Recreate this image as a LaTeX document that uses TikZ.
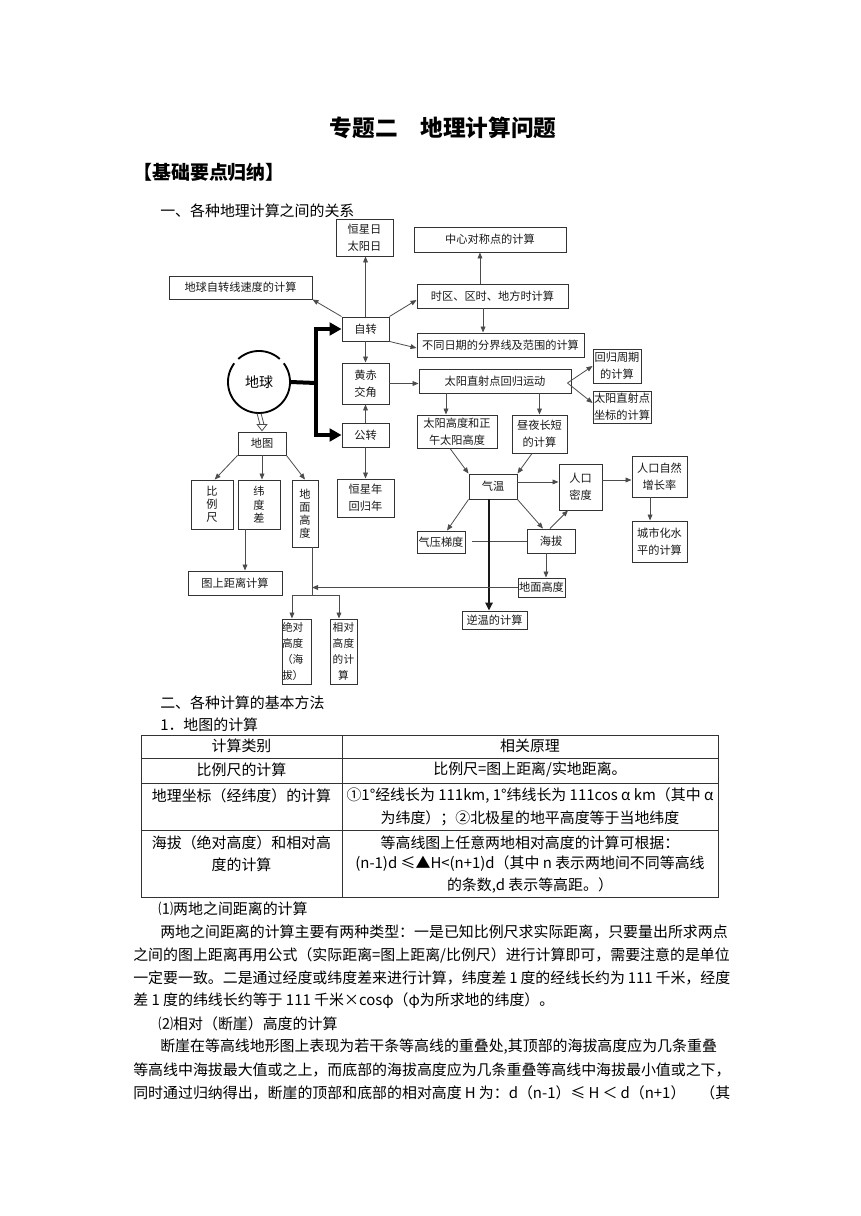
\documentclass[tikz,border=0pt]{standalone}
\usepackage{fontspec}
\setmainfont{Noto Sans CJK SC}
\usetikzlibrary{arrows.meta,calc}
\XeTeXlinebreaklocale "zh"
\XeTeXlinebreakskip=0pt plus 3pt
\newcommand\dgf{\fontsize{8.4}{12.5}\selectfont}
\newcommand\vtf{\fontsize{8.4}{9.8}\selectfont}
\newcommand\smf{\fontsize{8}{12}\selectfont}
\newcommand\bdf{\fontsize{11.2}{16}\selectfont}
\newcommand\BX[7][]{%
 \pgfmathsetmacro\bxw{(#4-#2)*0.75}%
 \pgfmathsetmacro\bxh{(#5-#3)*0.75}%
 \node[bx,minimum width=\bxw pt,minimum height=\bxh pt,#1] (#6) at ({(#2+#4)/2},{(#3+#5)/2}) {#7};}
\tikzset{
 bx/.style={draw=black!80, line width=0.7pt, inner sep=0pt, align=center, font=\dgf, text=black!90},
 ar/.style={draw=black!70, line width=0.6pt, -{Triangle[length=4.5pt,width=3.6pt]}},
 ln/.style={draw=black!70, line width=0.6pt},
 thk/.style={line width=3pt, line join=miter},
 tharr/.style={thk, -{Triangle[length=9pt,width=9.5pt]}},
 tx/.style={inner sep=0pt, anchor=west, font=\bdf},
 tc/.style={inner sep=0pt, font=\bdf},
 tbl/.style={draw=black!80, line width=0.6pt},
}
\begin{document}
\begin{tikzpicture}[x=0.75pt,y=-0.75pt]
\fill[white] (0,0) rectangle (860,1216);
\useasboundingbox (0,0) rectangle (860,1216);

% headings
\node[inner sep=0pt, font=\fontsize{17}{20}\selectfont\bfseries] (title) at (443,128) {专题二　地理计算问题};
\node[tx, font=\fontsize{14.2}{17}\selectfont\bfseries] (hd) at (133,172) {【基础要点归纳】};
\node[tx] (s1) at (160,211) {一、各种地理计算之间的关系};

% diagram boxes
\BX{336}{219}{393}{256}{hx}{恒星日\\太阳日}
\BX{414}{227}{566}{252}{zx}{中心对称点的计算}
\BX{169}{276}{312}{299}{xs}{地球自转线速度的计算}
\BX{417}{284}{568}{308}{sq}{时区、区时、地方时计算}
\BX{342}{317}{389}{341}{zz}{自转}
\BX{417}{333}{584}{357}{bt}{不同日期的分界线及范围的计算}
\BX{342}{363}{389}{404}{hc}{黄赤\\交角}
\BX{419}{369}{571}{393}{zs}{太阳直射点回归运动}
\BX{593}{349}{641}{383}{hg}{回归周期\\的计算}
\BX{593}{391}{651}{423}{zb}{太阳直射点\\坐标的计算}
\BX{342}{423}{389}{447}{gz}{公转}
\BX{337}{479}{394}{517}{hn}{恒星年\\回归年}
\BX{417}{415}{497}{448}{tg}{太阳高度和正\\午太阳高度}
\BX{512}{415}{567}{453}{zy}{昼夜长短\\的计算}
\BX{469}{474}{517}{499}{qw}{气温}
\BX{559}{464}{602}{510}{rk}{人口\\密度}
\BX{632}{456}{687}{497}{zr}{人口自然\\增长率}
\BX{632}{521}{687}{562}{cs}{城市化水\\平的计算}
\BX{417}{531}{465}{553}{qy}{气压梯度}
\BX{527}{529}{575}{553}{hb}{海拔}
\BX{518}{578}{565}{597}{dmr}{地面高度}
\BX{462}{611}{527}{629}{nw}{逆温的计算}
\BX{238}{432}{286}{455}{dt}{地图}
\BX[font=\vtf, text width=1em]{191}{480}{233}{529}{bl}{比\\例\\尺}
\BX[font=\vtf, text width=1em]{238}{480}{280}{529}{wd}{纬\\度\\差}
\BX[font=\vtf, text width=1em]{292}{480}{318}{547}{dmv}{地\\面\\高\\度}
\BX{188}{571}{282}{595}{tj}{图上距离计算}
\BX[font=\smf, align=left, text width=21.75pt]{282}{619}{311}{684}{jd}{绝对\\高度\\（海\\拔）}
\BX[font=\smf, text width=20.25pt]{330}{619}{357}{684}{xd}{相对\\高度\\的计\\算}

% earth
\node[circle, minimum size=46.5pt, inner sep=0pt, font=\fontsize{10.5}{12}\selectfont] (dq) at (259,382) {地球};
\draw[line width=1.4pt] plot[domain=48:132, samples=30] ({259+31*cos(\x)},{382-31*sin(\x)});
\draw[line width=1.4pt] plot[domain=143:397, samples=80] ({259+31*cos(\x)},{382-31*sin(\x)});

% thick connectors
\coordinate (J) at (316,383);
\draw[thk] (dq.east) -- (J);
\draw[tharr] (J) |- (zz.west);
\draw[tharr] (J) |- (gz.west);

% double arrow earth -> map
\draw[ln] ([xshift=-1.5pt]dq.south) -- ([xshift=-1.5pt,yshift=5.25pt]dt.north);
\draw[ln] ([xshift=1.5pt]dq.south) -- ([xshift=1.5pt,yshift=5.25pt]dt.north);
\draw[ln, fill=white] ([xshift=-3.6pt,yshift=5.25pt]dt.north) -- ([xshift=3.6pt,yshift=5.25pt]dt.north) -- ([yshift=0.6pt]dt.north) -- cycle;

% arrows around rotation
\draw[ar] (zz.north) -- (zz.north |- hx.south);
\draw[ar] (zz.north west) -- (xs.south east);
\draw[ar] (zz.north east) -- ([yshift=-3pt]sq.west);
\draw[ar] (zz.south east) -- ([yshift=-2.25pt]bt.west);
\draw[ar] ([xshift=-7.1pt]sq.south) -- ([xshift=-7.1pt]sq.south |- bt.north);
\draw[ar] ([xshift=-9.4pt]sq.north) -- ([xshift=-9.4pt]sq.north |- zx.south);
\draw[ar] (zz.south) -- (zz.south |- hc.north);
\draw[ar] (gz.north) -- (gz.north |- hc.south);
\draw[ar] (gz.south) -- (gz.south |- hn.north);
\draw[ar] (hc.east) -- (hc.east -| zs.west);
\draw[ar] ([xshift=-3pt,yshift=-1.5pt]zs.east) -- (hg.west);
\draw[ar] ([xshift=-3pt,yshift=-1.5pt]zs.east) -- ([yshift=3pt]zb.west);
\draw[ar] ([xshift=-8.25pt]tg.north |- zs.south) -- ([xshift=-8.25pt]tg.north);
\draw[ar] (zy.north |- zs.south) -- (zy.north);
\draw[ar] ([xshift=-5.25pt]tg.south) -- (qw.north west);
\draw[ar] ([xshift=-5.6pt]zy.south) -- (qw.north east);
\draw[ar] ([yshift=3.4pt]qw.east) -- ([yshift=3.4pt]qw.east -| rk.west);
\draw[ar] ([yshift=5.25pt]rk.east) -- ([yshift=5.25pt]rk.east -| zr.west);
\draw[ar] ([xshift=-7.1pt]zr.south) -- ([xshift=-7.1pt]zr.south |- cs.north);
\draw[ar] (qw.south west) -- ([xshift=4.5pt]qy.north);
\draw[ar] (qw.south east) -- ([xshift=-6pt]hb.north);
\draw[ar] ([xshift=-0.75pt]hb.north) -- ([xshift=-9.4pt]rk.south);
\coordinate (hbL) at (472,541);
\draw[ln] (hb.west) -- (hb.west -| hbL);
\draw[ar] ([xshift=-3.75pt]hb.south) -- ([xshift=-3.75pt]hb.south |- dmr.north);
\draw[line width=2pt, draw=black!90, -{Triangle[length=6pt,width=5.5pt]}] ([xshift=-3pt]qw.south) -- ([xshift=-3pt]qw.south |- nw.north);

% map branch
\coordinate (H1) at (312,595);
\draw[ar] (dmr.west) -- (dmr.west -| H1);
\draw[ln] (dmv.south -| H1) -- (H1);
\draw[ar] (H1) -| ([xshift=-3.4pt]jd.north);
\draw[ar] (H1) -| ([xshift=-3.4pt]xd.north);
\draw[ar] (dt.south west) -- ([xshift=2pt]bl.north);
\draw[ar] (dt.south) -- (dt.south |- wd.north);
\draw[ar] (dt.south east) -- (dmv.north);
\draw[ar] ([xshift=-10.5pt]wd.south) -- ([xshift=-10.5pt]wd.south |- tj.north);

% section two
\node[tx] (s2) at (160,703) {二、各种计算的基本方法};
\node[tx] (s3) at (160,725) {1．地图的计算};

% table
\draw[tbl] (141,735) rectangle (718,897);
\draw[tbl] (141,758) -- (718,758);
\draw[tbl] (141,783) -- (718,783);
\draw[tbl] (141,830) -- (718,830);
\draw[tbl] (342,735) -- (342,897);
\node[tc] (t11) at (241.5,746) {计算类别};
\node[tc] (t12) at (530,746) {相关原理};
\node[tc] (t21) at (241.5,770) {比例尺的计算};
\node[tc] (t22) at (530,770) {比例尺=图上距离/实地距离。};
\node[tc] (t31) at (241.5,796) {地理坐标（经纬度）的计算};
\node[tc] (t32a) at (530,796) {①1°经线长为 111km, 1°纬线长为 111cos α km（其中 α};
\node[tc] (t32b) at (530,818) {为纬度）；②北极星的地平高度等于当地纬度};
\node[tc] (t41a) at (241.5,843) {海拔（绝对高度）和相对高};
\node[tc] (t41b) at (241.5,865) {度的计算};
\node[tc] (t42a) at (530,843) {等高线图上任意两地相对高度的计算可根据：};
\node[tc] (t42b) at (530,864) {(n-1)d ≤▲H<(n+1)d（其中 n 表示两地间不同等高线};
\node[tc] (t42c) at (530,886) {的条数,d 表示等高距。）};

% paragraphs
\node[tx] (p0) at (158,909) {⑴两地之间距离的计算};
\node[tx] (p1) at (160,932) {\hbox to 427.5pt{两地之间距离的计算主要有两种类型：一是已知比例尺求实际距离，只要量出所求两点}};
\node[tx] (p2) at (133,955) {\hbox to 447.75pt{之间的图上距离再用公式（实际距离=图上距离/比例尺）进行计算即可，需要注意的是单位}};
\node[tx] (p3) at (133,978) {\hbox to 447.75pt{一定要一致。二是通过经度或纬度差来进行计算，纬度差 1 度的经线长约为 111 千米，经度}};
\node[tx] (p4) at (133,1001) {差 1 度的纬线长约等于 111 千米×cosφ（φ为所求地的纬度）。};
\node[tx] (q0) at (158,1024) {⑵相对（断崖）高度的计算};
\node[tx] (q1) at (160,1047) {\hbox to 427.5pt{断崖在等高线地形图上表现为若干条等高线的重叠处,其顶部的海拔高度应为几条重叠}};
\node[tx] (q2) at (133,1070) {\hbox to 447.75pt{等高线中海拔最大值或之上，而底部的海拔高度应为几条重叠等高线中海拔最小值或之下，}};
\node[tx] (q3) at (133,1093) {\hbox to 447.75pt{同时通过归纳得出，断崖的顶部和底部的相对高度 H 为：d（n-1）≤ H ＜ d（n+1）　（其}};
\end{tikzpicture}
\end{document}
